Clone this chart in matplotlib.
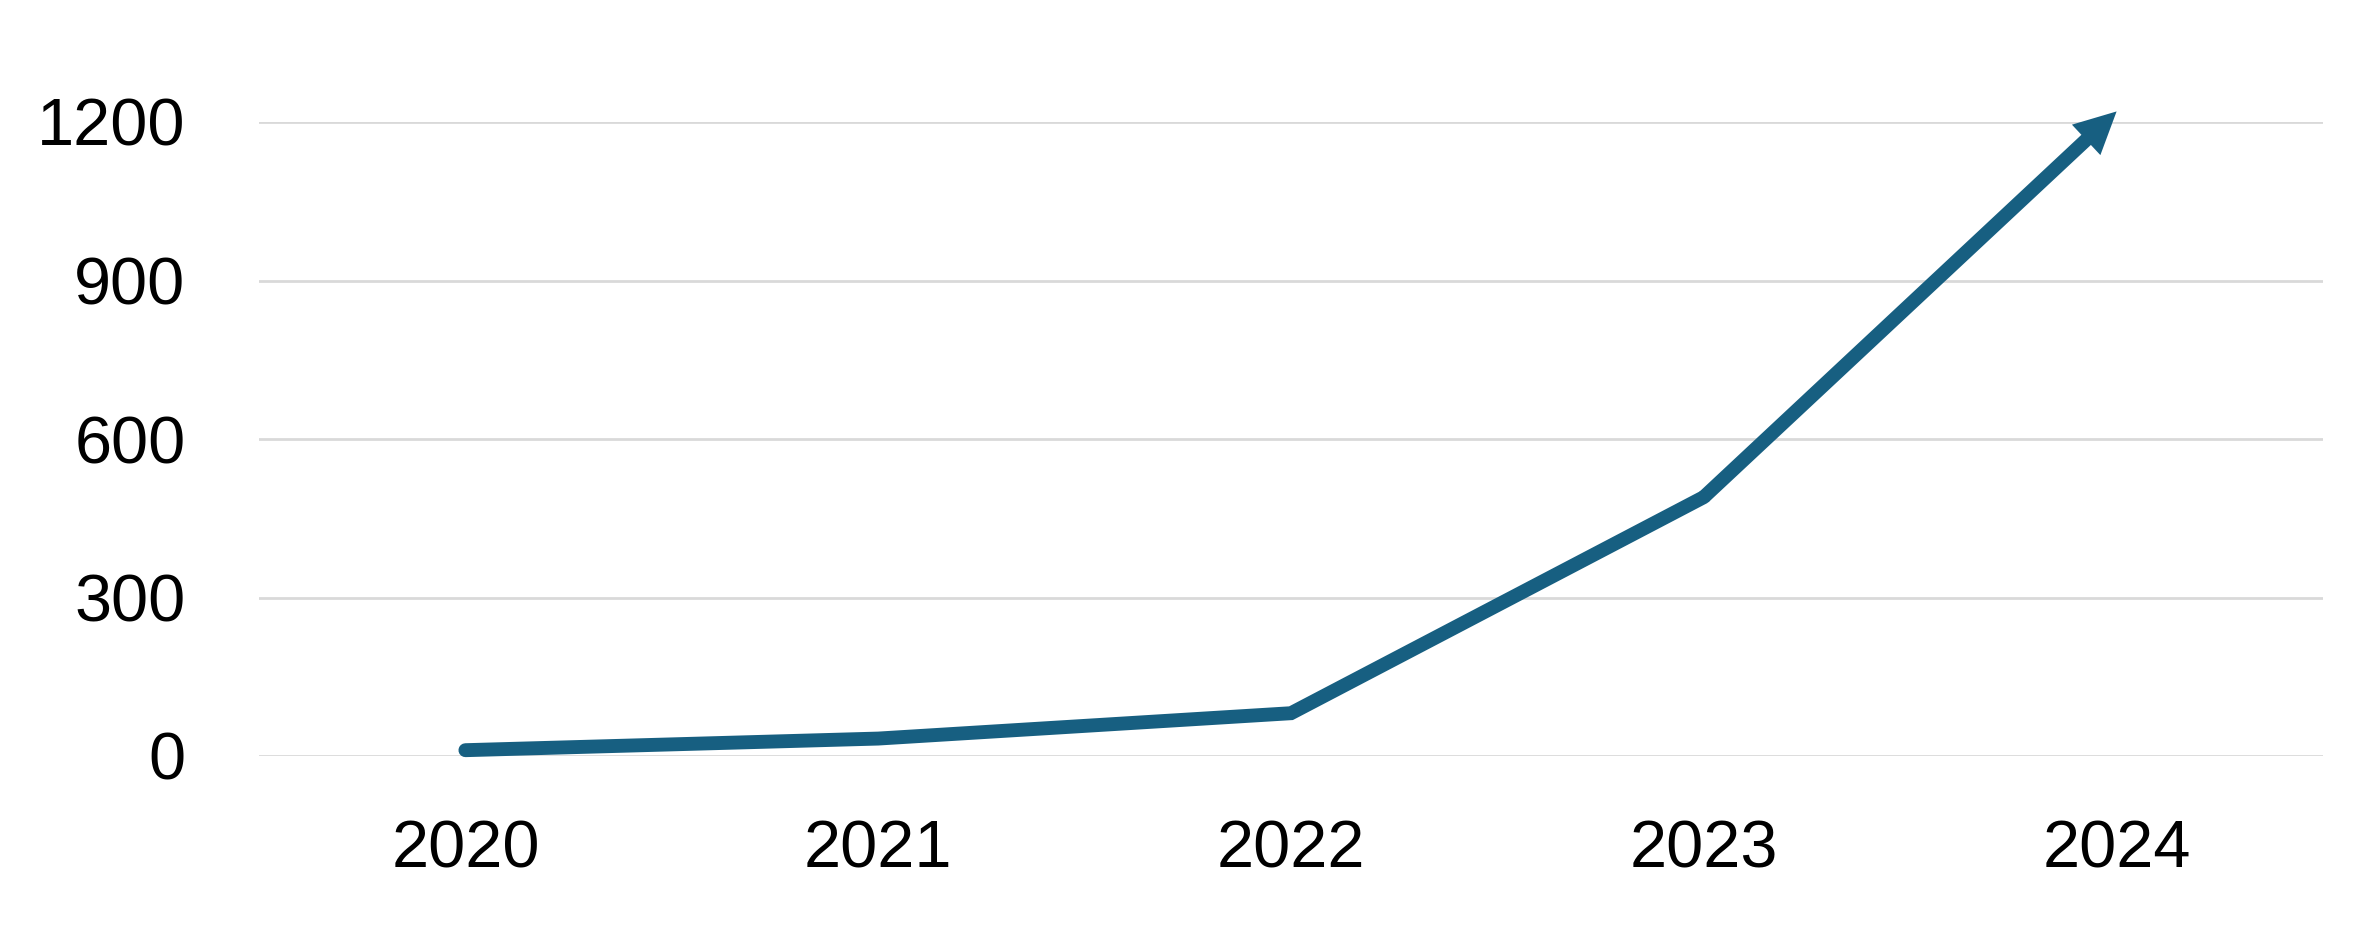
import matplotlib
matplotlib.use("Agg")
import matplotlib.pyplot as plt
from matplotlib.patches import FancyArrowPatch

years = ["2020", "2021", "2022", "2023", "2024"]
values = [11, 33, 81, 490, 1220]
yticks = [0, 300, 600, 900, 1200]

line_color = "#175F81"
grid_color = "#D9D9D9"

plt.rcParams['font.family'] = ['Liberation Sans', 'DejaVu Sans']

fig = plt.figure(figsize=(23.78, 9.25), dpi=100)
ax = fig.add_axes([259/2378, (925-756)/925, (2323-259)/2378, (756-122)/925])

x = list(range(len(years)))
ax.set_xlim(-0.5, len(years) - 0.5)
ax.set_ylim(0, 1200)

# line up to the second-last point
ax.plot(x[:-1], values[:-1], color=line_color, lw=10, solid_capstyle='round',
        solid_joinstyle='miter', clip_on=False, zorder=3)
# final segment as arrow
arr = FancyArrowPatch((x[-2], values[-2]), (x[-1], values[-1]),
                      arrowstyle='simple,head_length=0.6,head_width=0.6,tail_width=0.2',
                      mutation_scale=50, color=line_color, lw=0,
                      shrinkA=0, shrinkB=0, clip_on=False, zorder=3)
ax.add_patch(arr)

ax.set_yticks(yticks)
ax.set_yticklabels([str(v) for v in yticks])
ax.set_xticks(x)
ax.set_xticklabels(years)
ax.yaxis.grid(True, color=grid_color, lw=2)
ax.set_axisbelow(True)
for s in ax.spines.values():
    s.set_visible(False)
ax.tick_params(axis='both', length=0, labelsize=48)
ax.tick_params(axis='y', pad=53)
ax.tick_params(axis='x', pad=46)

fig.savefig("out.png", dpi=100)
